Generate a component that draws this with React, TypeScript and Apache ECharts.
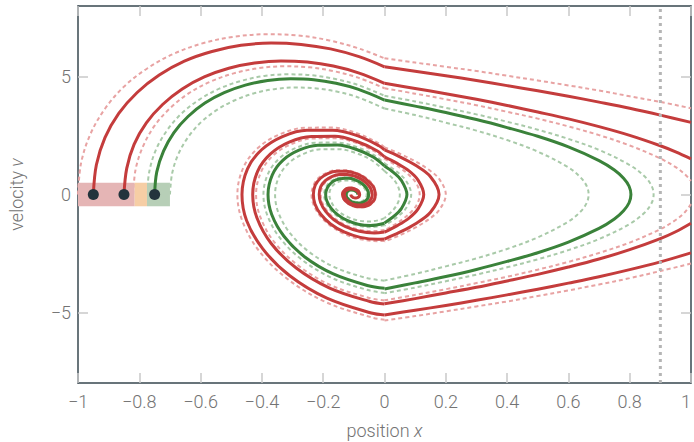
import React, { useEffect, useRef } from 'react';
import * as echarts from 'echarts';

// ---- axis settings ----
const xMin = -1;
const xMax = 1;
const xStep = 0.2;
const yMin = -8;
const yMax = 8;
const yTicks = [-5, 0, 5];

// ---- start positions (dots) and start-region bands ----
const startX = [-0.95, -0.85, -0.75];
const startV = [0, 0, 0];
const bandEdges = [-1, -0.815, -0.775, -0.7];
const bandV = [-0.5, 0.5];
const markerX = 0.9;

// ---- trajectories (segments of [x, v]) ----
const red1Path: number[][][] = [
  [[-0.95, 0], [-0.94, 1.26], [-0.912, 2.41], [-0.867, 3.44], [-0.807, 4.33], [-0.735, 5.07], [-0.653, 5.66], [-0.563, 6.07], [-0.468, 6.33], [-0.37, 6.43], [-0.272, 6.37], [-0.176, 6.18], [-0.083, 5.85], [0, 5.42]],
  [[0, 5.42], [0.1, 5.23], [0.2, 5.04], [0.3, 4.84], [0.4, 4.62], [0.5, 4.4], [0.6, 4.17], [0.7, 3.92], [0.8, 3.66], [0.9, 3.37], [1, 3.06]],
  [[1, -2.48], [0.9, -2.86], [0.8, -3.19], [0.7, -3.49], [0.6, -3.76], [0.5, -4.02], [0.4, -4.26], [0.3, -4.49], [0.2, -4.71], [0.1, -4.91], [0, -5.11]],
  [[0, -5.11], [-0.043, -5.03], [-0.188, -4.4], [-0.309, -3.45], [-0.397, -2.31], [-0.45, -1.1], [-0.465, 0], [-0.447, 1.09], [-0.401, 1.9], [-0.333, 2.46], [-0.253, 2.73], [-0.169, 2.73], [-0.089, 2.5], [-0.018, 2.07], [0, 1.89]],
  [[0, 1.89], [0.05, 1.6], [0.1, 1.25], [0.15, 0.755], [0.178, 0], [0.15, -0.755], [0.1, -1.25], [0.05, -1.6], [0, -1.89]],
  [[0, -1.89], [-0.022, -1.9], [-0.079, -1.82], [-0.132, -1.59], [-0.176, -1.25], [-0.208, -0.84], [-0.227, -0.4], [-0.232, 0], [-0.226, 0.395], [-0.209, 0.69], [-0.185, 0.89], [-0.156, 0.99], [-0.125, 0.99], [-0.096, 0.905], [-0.071, 0.75], [-0.052, 0.548], [-0.036, 0.32], [-0.03, 0], [-0.033, -0.208], [-0.043, -0.363], [-0.055, -0.469], [-0.071, -0.52], [-0.087, -0.521], [-0.102, -0.477], [-0.116, -0.395], [-0.126, -0.289], [-0.133, -0.169], [-0.137, 0], [-0.135, 0.109], [-0.13, 0.191], [-0.124, 0.247], [-0.115, 0.274], [-0.107, 0.274], [-0.099, 0.251], [-0.092, 0.208], [-0.086, 0.152], [-0.083, 0.089], [-0.081, 0], [-0.082, -0.057], [-0.084, -0.1], [-0.088, -0.13], [-0.092, -0.145], [-0.096, -0.144], [-0.101, -0.132], [-0.104, -0.11], [-0.107, -0.08], [-0.109, -0.047], [-0.11, 0]],
];

const red2Path: number[][][] = [
  [[-0.85, 0], [-0.841, 1.11], [-0.817, 2.13], [-0.777, 3.04], [-0.724, 3.82], [-0.66, 4.48], [-0.588, 4.99], [-0.508, 5.36], [-0.424, 5.58], [-0.338, 5.67], [-0.252, 5.62], [-0.167, 5.45], [-0.085, 5.16], [0, 4.72]],
  [[0, 4.72], [0.1, 4.5], [0.2, 4.28], [0.3, 4.04], [0.4, 3.78], [0.5, 3.5], [0.6, 3.21], [0.7, 2.88], [0.8, 2.51], [0.9, 2.07], [0.95, 1.81], [1, 1.51]],
  [[1, -1.22], [0.95, -1.58], [0.9, -1.87], [0.8, -2.34], [0.7, -2.74], [0.6, -3.08], [0.5, -3.39], [0.4, -3.67], [0.3, -3.94], [0.2, -4.18], [0.1, -4.42], [0, -4.64]],
  [[0, -4.65], [-0.048, -4.54], [-0.179, -3.97], [-0.288, -3.12], [-0.369, -2.09], [-0.416, -1.0], [-0.43, 0], [-0.414, 0.984], [-0.372, 1.72], [-0.311, 2.22], [-0.2385, 2.46], [-0.162, 2.47], [-0.09, 2.25], [-0.026, 1.87], [0, 1.6]],
  [[0, 1.6], [0.04, 1.33], [0.08, 1.0], [0.11, 0.6], [0.128, 0], [0.11, -0.6], [0.08, -1.0], [0.04, -1.33], [0, -1.6]],
  [[0, -1.59], [-0.033, -1.63], [-0.082, -1.56], [-0.127, -1.36], [-0.165, -1.07], [-0.192, -0.718], [-0.2085, -0.342], [-0.213, 0], [-0.208, 0.338], [-0.193, 0.59], [-0.172, 0.762], [-0.148, 0.847], [-0.1215, 0.848], [-0.096, 0.774], [-0.075, 0.642], [-0.058, 0.469], [-0.046, 0.274], [-0.04, 0], [-0.043, -0.178], [-0.051, -0.311], [-0.062, -0.401], [-0.075, -0.446], [-0.089, -0.447], [-0.102, -0.408], [-0.113, -0.338], [-0.122, -0.247], [-0.128, -0.144], [-0.131, 0], [-0.13, 0.094], [-0.126, 0.164], [-0.12, 0.211], [-0.113, 0.235], [-0.106, 0.235], [-0.099, 0.215], [-0.093, 0.178], [-0.088, 0.13], [-0.085, 0.076], [-0.083, 0]],
];

const greenPath: number[][][] = [
  [[-0.75, 0], [-0.743, 0.96], [-0.721, 1.84], [-0.687, 2.63], [-0.641, 3.31], [-0.586, 3.88], [-0.523, 4.32], [-0.454, 4.64], [-0.381, 4.84], [-0.306, 4.91], [-0.231, 4.87], [-0.158, 4.72], [-0.087, 4.47], [0, 4.01]],
  [[0, 4.01], [0.1, 3.75], [0.2, 3.48], [0.3, 3.18], [0.4, 2.84], [0.5, 2.47], [0.6, 2.02], [0.7, 1.44], [0.75, 1.04], [0.78, 0.69], [0.798, 0.35], [0.804, 0], [0.798, -0.35], [0.78, -0.69], [0.75, -1.04], [0.7, -1.44], [0.6, -2.02], [0.5, -2.47], [0.4, -2.84], [0.3, -3.18], [0.2, -3.48], [0.1, -3.75], [0, -4.01]],
  [[0, -3.98], [-0.056, -3.86], [-0.167, -3.37], [-0.26, -2.65], [-0.328, -1.77], [-0.368, -0.847], [-0.38, 0], [-0.366, 0.835], [-0.331, 1.46], [-0.279, 1.88], [-0.218, 2.09], [-0.153, 2.1], [-0.091, 1.91], [-0.037, 1.59], [0, 1.21]],
  [[0, 1.21], [0.03, 0.93], [0.055, 0.6], [0.0732, 0], [0.055, -0.6], [0.03, -0.93], [0, -1.21]],
  [[0, -1.22], [-0.046, -1.315], [-0.086, -1.261], [-0.122, -1.102], [-0.152, -0.865], [-0.1745, -0.58], [-0.188, -0.277], [-0.192, 0], [-0.187, 0.273], [-0.175, 0.477], [-0.1585, 0.616], [-0.138, 0.684], [-0.117, 0.685], [-0.097, 0.626], [-0.0795, 0.518], [-0.066, 0.379], [-0.0565, 0.221], [-0.052, 0], [-0.054, -0.144], [-0.06, -0.251], [-0.069, -0.324], [-0.08, -0.36], [-0.091, -0.361], [-0.1015, -0.329], [-0.111, -0.273], [-0.118, -0.199], [-0.123, -0.117], [-0.125, 0], [-0.124, 0.076], [-0.121, 0.132], [-0.116, 0.171], [-0.111, 0.19], [-0.105, 0.19], [-0.099, 0.173], [-0.094, 0.144], [-0.0905, 0.105], [-0.088, 0.061], [-0.087, 0]],
];

const dashRedOuterPath: number[][][] = [
  [[-1, 0], [-0.99, 1.33], [-0.96, 2.55], [-0.912, 3.64], [-0.849, 4.59], [-0.772, 5.37], [-0.685, 5.99], [-0.59, 6.43], [-0.489, 6.7], [-0.386, 6.8], [-0.282, 6.75], [-0.18, 6.54], [-0.082, 6.19], [0, 5.78]],
  [[0, 5.78], [0.1, 5.6], [0.2, 5.42], [0.3, 5.24], [0.4, 5.04], [0.5, 4.84], [0.6, 4.63], [0.7, 4.41], [0.8, 4.17], [0.9, 3.93], [1, 3.66]],
  [[1, -2.93], [0.9, -3.25], [0.8, -3.55], [0.7, -3.82], [0.6, -4.07], [0.5, -4.31], [0.4, -4.54], [0.3, -4.75], [0.2, -4.96], [0.1, -5.16], [0, -5.35]],
  [[0, -5.32], [-0.041, -5.22], [-0.191, -4.57], [-0.317, -3.58], [-0.409, -2.4], [-0.463, -1.15], [-0.48, 0], [-0.461, 1.13], [-0.4125, 1.98], [-0.3425, 2.55], [-0.259, 2.83], [-0.172, 2.84], [-0.088, 2.59], [-0.015, 2.15], [0, 2.0]],
  [[0, 2], [0.05, 1.73], [0.1, 1.41], [0.15, 1.0], [0.18, 0.63], [0.2, 0], [0.18, -0.63], [0.15, -1.0], [0.1, -1.41], [0.05, -1.73], [0, -2]],
  [[0, -1.97], [-0.018, -1.98], [-0.078, -1.9], [-0.133, -1.66], [-0.179, -1.3], [-0.212, -0.874], [-0.232, -0.417], [-0.238, 0], [-0.231, 0.412], [-0.214, 0.719], [-0.188, 0.928], [-0.158, 1.031], [-0.126, 1.033], [-0.096, 0.943], [-0.069, 0.782], [-0.048, 0.571], [-0.034, 0.334], [-0.027, 0], [-0.031, -0.217], [-0.04, -0.379], [-0.0535, -0.489], [-0.0695, -0.543], [-0.086, -0.544], [-0.102, -0.497], [-0.116, -0.412], [-0.127, -0.301], [-0.135, -0.176], [-0.138, 0], [-0.136, 0.114], [-0.1315, 0.199], [-0.1245, 0.257], [-0.116, 0.286], [-0.107, 0.286], [-0.099, 0.262], [-0.091, 0.217], [-0.086, 0.158], [-0.082, 0.093], [-0.08, 0]],
];

const dashRedInnerPath: number[][][] = [
  [[-0.82, 0], [-0.812, 1.07], [-0.788, 2.04], [-0.75, 2.92], [-0.699, 3.67], [-0.638, 4.3], [-0.568, 4.79], [-0.492, 5.14], [-0.4115, 5.36], [-0.329, 5.44], [-0.245, 5.4], [-0.164, 5.23], [-0.086, 4.96], [0, 4.51]],
  [[0, 4.51], [0.1, 4.28], [0.2, 4.04], [0.3, 3.79], [0.4, 3.51], [0.5, 3.22], [0.6, 2.89], [0.7, 2.52], [0.8, 2.08], [0.9, 1.53], [0.95, 1.16], [0.98, 0.86], [1, 0.58]],
  [[1, -0.41], [0.98, -0.755], [0.95, -1.08], [0.9, -1.47], [0.8, -2.04], [0.7, -2.48], [0.6, -2.86], [0.5, -3.19], [0.4, -3.49], [0.3, -3.76], [0.2, -4.02], [0.1, -4.26], [0, -4.49]],
  [[0, -4.5], [-0.05, -4.39], [-0.177, -3.84], [-0.282, -3.01], [-0.3595, -2.02], [-0.405, -0.963], [-0.419, 0], [-0.403, 0.951], [-0.363, 1.66], [-0.304, 2.14], [-0.234, 2.38], [-0.16, 2.385], [-0.09, 2.18], [-0.029, 1.805], [0, 1.515]],
  [[0, 1.515], [0.05, 1.138], [0.09, 0.7], [0.108, 0.367], [0.1148, 0], [0.108, -0.367], [0.09, -0.7], [0.05, -1.138], [0, -1.515]],
  [[0, -1.51], [-0.036, -1.553], [-0.083, -1.489], [-0.126, -1.302], [-0.162, -1.022], [-0.188, -0.685], [-0.2035, -0.327], [-0.208, 0], [-0.203, 0.3225], [-0.189, 0.563], [-0.169, 0.727], [-0.145, 0.808], [-0.1205, 0.809], [-0.097, 0.739], [-0.076, 0.612], [-0.0595, 0.448], [-0.049, 0.261], [-0.043, 0], [-0.046, -0.17], [-0.053, -0.297], [-0.064, -0.383], [-0.076, -0.425], [-0.089, -0.426], [-0.102, -0.389], [-0.113, -0.322], [-0.121, -0.236], [-0.127, -0.138], [-0.13, 0], [-0.1285, 0.089], [-0.125, 0.156], [-0.119, 0.202], [-0.1126, 0.224], [-0.106, 0.224], [-0.099, 0.205], [-0.093, 0.17], [-0.089, 0.124], [-0.086, 0.0725], [-0.084, 0]],
];

const dashGreenOuterPath: number[][][] = [
  [[-0.775, 0], [-0.767, 1.0], [-0.745, 1.92], [-0.709, 2.73], [-0.662, 3.44], [-0.604, 4.03], [-0.539, 4.49], [-0.468, 4.82], [-0.392, 5.03], [-0.314, 5.1], [-0.236, 5.06], [-0.16, 4.9], [-0.087, 4.65], [0, 4.19]],
  [[0, 4.19], [0.1, 3.95], [0.2, 3.68], [0.3, 3.4], [0.4, 3.09], [0.5, 2.75], [0.6, 2.36], [0.7, 1.89], [0.8, 1.25], [0.85, 0.75], [0.872, 0.35], [0.878, 0], [0.872, -0.35], [0.85, -0.75], [0.8, -1.25], [0.7, -1.89], [0.6, -2.36], [0.5, -2.75], [0.4, -3.09], [0.3, -3.4], [0.2, -3.68], [0.1, -3.95], [0, -4.19]],
  [[0, -4.18], [-0.054, -4.055], [-0.171, -3.545], [-0.268, -2.783], [-0.34, -1.865], [-0.382, -0.89], [-0.395, 0], [-0.38, 0.878], [-0.343, 1.534], [-0.288, 1.98], [-0.224, 2.2], [-0.156, 2.204], [-0.091, 2.013], [-0.034, 1.668], [0, 1.32]],
  [[0, 1.32], [0.04, 0.97], [0.07, 0.585], [0.0871, 0], [0.07, -0.585], [0.04, -0.97], [0, -1.32]],
  [[0, -1.31], [-0.043, -1.387], [-0.085, -1.33], [-0.123, -1.163], [-0.155, -0.913], [-0.179, -0.612], [-0.1925, -0.292], [-0.197, 0], [-0.192, 0.288], [-0.18, 0.503], [-0.162, 0.649], [-0.1405, 0.722], [-0.118, 0.723], [-0.097, 0.66], [-0.078, 0.547], [-0.064, 0.4], [-0.054, 0.2335], [-0.049, 0], [-0.052, -0.152], [-0.058, -0.265], [-0.0675, -0.342], [-0.079, -0.38], [-0.09, -0.381], [-0.1016, -0.348], [-0.111, -0.288], [-0.119, -0.2105], [-0.124, -0.123], [-0.127, 0], [-0.1255, 0.08], [-0.122, 0.1395], [-0.117, 0.18], [-0.111, 0.2], [-0.105, 0.2], [-0.099, 0.183], [-0.094, 0.152], [-0.09, 0.111], [-0.087, 0.065], [-0.086, 0]],
];

const dashGreenInnerPath: number[][][] = [
  [[-0.7, 0], [-0.693, 0.89], [-0.673, 1.7], [-0.641, 2.43], [-0.599, 3.06], [-0.548, 3.58], [-0.49, 3.99], [-0.427, 4.29], [-0.36, 4.47], [-0.2905, 4.54], [-0.221, 4.5], [-0.153, 4.36], [-0.088, 4.13], [0, 3.65]],
  [[0, 3.65], [0.1, 3.37], [0.2, 3.05], [0.3, 2.71], [0.4, 2.31], [0.5, 1.82], [0.6, 1.15], [0.64, 0.72], [0.66, 0.35], [0.666, 0], [0.66, -0.35], [0.64, -0.72], [0.6, -1.15], [0.5, -1.82], [0.4, -2.31], [0.3, -2.71], [0.2, -3.05], [0.1, -3.37], [0, -3.65]],
  [[0, -3.66], [-0.06, -3.536], [-0.162, -3.091], [-0.247, -2.426], [-0.309, -1.626], [-0.346, -0.776], [-0.357, 0], [-0.344, 0.766], [-0.312, 1.337], [-0.264, 1.727], [-0.208, 1.918], [-0.149, 1.922], [-0.092, 1.755], [-0.042, 1.454], [0, 1.0]],
  [[0, 1], [0.03, 0.632], [0.045, 0.316], [0.05, 0], [0.045, -0.316], [0.03, -0.632], [0, -1]],
  [[0, -1], [-0.018, -1.0875], [-0.053, -1.147], [-0.0875, -1.1], [-0.119, -0.961], [-0.146, -0.755], [-0.165, -0.506], [-0.176, -0.241], [-0.18, 0], [-0.176, 0.238], [-0.166, 0.416], [-0.151, 0.537], [-0.1335, 0.597], [-0.115, 0.598], [-0.0975, 0.546], [-0.082, 0.452], [-0.07, 0.331], [-0.062, 0.193], [-0.058, 0], [-0.06, -0.125], [-0.065, -0.219], [-0.073, -0.283], [-0.082, -0.314], [-0.092, -0.315], [-0.101, -0.287], [-0.109, -0.238], [-0.116, -0.174], [-0.12, -0.102], [-0.122, 0], [-0.121, 0.066], [-0.118, 0.115], [-0.114, 0.149], [-0.109, 0.165], [-0.104, 0.166], [-0.099, 0.151], [-0.095, 0.125], [-0.092, 0.092], [-0.0895, 0.054], [-0.088, 0]],
];

// ---- styles ----
const RED = '#c43c3c';
const GREEN = '#3a823a';
const RED_DASH = '#e8a3a3';
const GREEN_DASH = '#a9caa9';
const BAND_COLORS = ['#e5b5b5', '#f6cea5', '#b7cfb7'];
const DOT = '#23343c';
const AXIS = '#37474f';
const TICK = '#c9c9c9';
const LABEL = '#737373';
const FONT = 'Roboto, "Open Sans", Lato, "DejaVu Sans", sans-serif';

const fmtNum = (v: number) => {
  const a = parseFloat(Math.abs(v).toFixed(2));
  if (a === 0) return '0';
  return (v < 0 ? '\u2212' : '') + String(a);
};

export default function App() {
  const ref = useRef<HTMLDivElement>(null);
  useEffect(() => {
    if (!ref.current) return;
    const chart = echarts.init(ref.current, null, { renderer: 'svg' });

    const pathSeries = (path: number[][][], color: string, width: number, dashed: boolean, z: number) =>
      path.map((seg) => ({
        type: 'line',
        data: seg,
        smooth: 0.35,
        symbol: 'none',
        showSymbol: false,
        silent: true,
        clip: true,
        z,
        lineStyle: { color, width, type: dashed ? [4, 3] : 'solid', cap: 'butt', join: 'round' },
      }));

    const bandData = bandEdges.slice(0, -1).map((x0, i) => [x0, bandEdges[i + 1], i]);

    const labelStyle = { color: LABEL, fontSize: 18, fontFamily: FONT, fontWeight: 300 };
    const nameStyle = {
      color: LABEL,
      fontSize: 18,
      fontFamily: FONT,
      fontWeight: 300,
      rich: { it: { color: LABEL, fontSize: 18, fontFamily: FONT, fontWeight: 300, fontStyle: 'italic' } },
    };
    const tick = { show: true, inside: true, length: 10, lineStyle: { color: TICK, width: 1.5 } };
    const axisLine = { show: true, onZero: false, lineStyle: { color: AXIS, width: 1.5 } };

    const option: any = {
      animation: false,
      backgroundColor: '#ffffff',
      grid: { left: 78, right: 3, top: 6, bottom: 59, containLabel: false, outerBoundsMode: 'none' },
      xAxis: [
        {
          type: 'value', min: xMin, max: xMax, interval: xStep, position: 'bottom',
          axisLine, axisTick: tick, splitLine: { show: false },
          axisLabel: { ...labelStyle, margin: 9, hideOverlap: false, alignMaxLabel: 'right', formatter: (v: number) => fmtNum(v) },
          name: 'position {it|x}', nameLocation: 'middle', nameGap: 38, nameTextStyle: nameStyle,
        },
        {
          type: 'value', min: xMin, max: xMax, interval: xStep, position: 'top',
          axisLine, axisTick: tick, splitLine: { show: false }, axisLabel: { show: false },
        },
      ],
      yAxis: [
        {
          type: 'value', min: yMin, max: yMax, position: 'left',
          axisLine, axisTick: { ...tick, customValues: yTicks }, splitLine: { show: false },
          axisLabel: { ...labelStyle, margin: 7, customValues: yTicks, formatter: (v: number) => fmtNum(v) },
          name: 'velocity {it|v}', nameLocation: 'middle', nameGap: 53, nameTextStyle: nameStyle,
        },
        {
          type: 'value', min: yMin, max: yMax, position: 'right',
          axisLine, axisTick: { ...tick, customValues: yTicks }, splitLine: { show: false },
          axisLabel: { show: false, customValues: yTicks },
        },
      ],
      series: [
        ...pathSeries(dashRedOuterPath, RED_DASH, 2, true, 1),
        ...pathSeries(dashRedInnerPath, RED_DASH, 2, true, 1),
        ...pathSeries(dashGreenOuterPath, GREEN_DASH, 2, true, 1),
        ...pathSeries(dashGreenInnerPath, GREEN_DASH, 2, true, 1),
        {
          type: 'custom',
          z: 2,
          silent: true,
          data: bandData,
          encode: { x: [0, 1] },
          renderItem: (_params: any, api: any) => {
            const p0 = api.coord([api.value(0), bandV[1]]);
            const p1 = api.coord([api.value(1), bandV[0]]);
            return {
              type: 'rect',
              shape: { x: p0[0], y: p0[1], width: p1[0] - p0[0], height: p1[1] - p0[1] },
              style: { fill: BAND_COLORS[api.value(2)] },
            };
          },
        },
        ...pathSeries(greenPath, GREEN, 3, false, 3),
        ...pathSeries(red2Path, RED, 3, false, 3),
        ...pathSeries(red1Path, RED, 3, false, 3),
        {
          type: 'scatter',
          z: 4,
          silent: true,
          symbol: 'circle',
          symbolSize: 11,
          data: startX.map((x, i) => [x, startV[i]]),
          itemStyle: { color: DOT, opacity: 1 },
        },
        {
          type: 'line',
          z: 5,
          silent: true,
          symbol: 'none',
          data: [[markerX, yMin], [markerX, yMax]],
          lineStyle: { color: '#b5b5b5', width: 3, type: [3, 4], cap: 'butt' },
        },
      ],
    };

    chart.setOption(option);
    return () => chart.dispose();
  }, []);

  return <div ref={ref} style={{ position: 'fixed', left: 0, top: 0, width: 694, height: 442 }} />;
}
